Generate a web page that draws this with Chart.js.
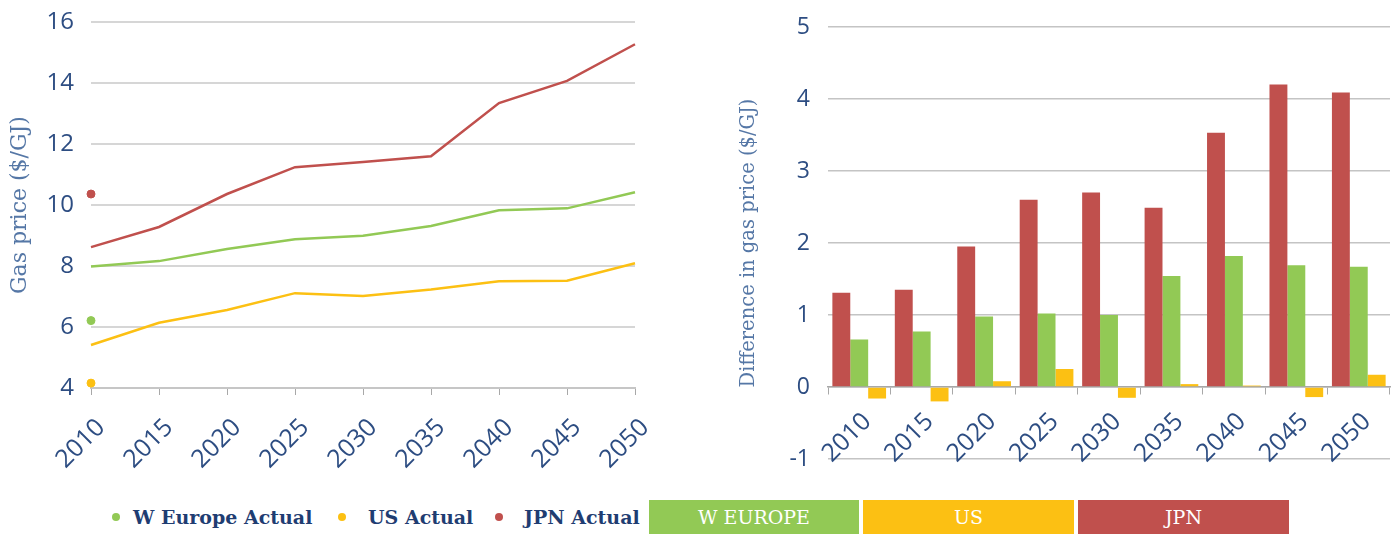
<!DOCTYPE html>
<html>
<head>
<meta charset="utf-8">
<script src="https://cdn.jsdelivr.net/npm/chart.js@4"></script>
<style>
  body { margin: 0; background: #fff; width: 1400px; height: 534px; overflow: hidden; position: relative; }
  #leftWrap { position: absolute; left: 0; top: 0; }
  #rightWrap { position: absolute; left: 700px; top: 0; }
  .dot { position: absolute; top: 513px; width: 8px; height: 8px; border-radius: 50%; }
  .label { position: absolute; top: 500px; height: 34px; line-height: 34px; font-family: "DejaVu Serif", serif; font-weight: bold; font-size: 19px; color: #1f3d72; white-space: nowrap; }
  .box { position: absolute; top: 500px; height: 34px; line-height: 34px; text-align: center; color: #fff; font-family: "DejaVu Serif", serif; font-size: 19px; }
</style>
</head>
<body>
<div id="leftWrap"><canvas id="lineChart" width="650" height="480"></canvas></div>
<div id="rightWrap"><canvas id="barChart" width="700" height="480"></canvas></div>

<span class="dot" style="left:112px;background:#92c955"></span>
<span class="label" style="left:133px">W Europe Actual</span>
<span class="dot" style="left:338px;background:#fcc013"></span>
<span class="label" style="left:368px">US Actual</span>
<span class="dot" style="left:495px;background:#c0504d"></span>
<span class="label" style="left:524px">JPN Actual</span>
<div class="box" style="left:649px;width:210px;background:#92c955">W EUROPE</div>
<div class="box" style="left:863px;width:211px;background:#fcc013">US</div>
<div class="box" style="left:1078px;width:211px;background:#c0504d">JPN</div>

<script>
const years = ["2010", "2015", "2020", "2025", "2030", "2035", "2040", "2045", "2050"];

// gas price ($/GJ)
const europePrice = [7.98, 8.16, 8.56, 8.88, 8.99, 9.31, 9.83, 9.89, 10.42];
const usPrice = [5.41, 6.14, 6.56, 7.11, 7.02, 7.23, 7.5, 7.52, 8.09];
const jpnPrice = [8.62, 9.28, 10.36, 11.24, 11.41, 11.6, 13.34, 14.07, 15.27];

// actual 2010 values
const europeActual = [6.21];
const usActual = [4.16];
const jpnActual = [10.36];

// difference in gas price ($/GJ)
const jpnDiff = [1.31, 1.35, 1.95, 2.6, 2.7, 2.49, 3.53, 4.2, 4.09];
const europeDiff = [0.66, 0.77, 0.98, 1.02, 1.0, 1.54, 1.82, 1.69, 1.67];
const usDiff = [-0.16, -0.2, 0.08, 0.25, -0.15, 0.04, 0.02, -0.14, 0.17];

const GREEN = "#92c955";
const YELLOW = "#fcc013";
const RED = "#c0504d";
const TICK_COLOR = "#2d4d82";
const TITLE_COLOR = "#5577a6";

function actualPoints(values) {
  return years.map((y, i) => (i < values.length ? values[i] : null));
}

function lineSet(label, data, color) {
  return {
    label: label,
    data: data,
    borderColor: color,
    backgroundColor: color,
    borderWidth: 2.5,
    pointRadius: 0,
    tension: 0,
  };
}

function dotSet(label, data, color) {
  return {
    label: label,
    data: actualPoints(data),
    borderColor: color,
    backgroundColor: color,
    showLine: false,
    pointRadius: 4,
    pointHoverRadius: 4,
  };
}

// keep the chart area exactly where the layout padding puts it
function noPadY(axis, width) {
  axis.width = width;
  axis.paddingTop = 0;
  axis.paddingBottom = 0;
}

function noPadX(axis, height) {
  axis.height = height;
  axis.paddingLeft = 0;
  axis.paddingRight = 0;
}

new Chart(document.getElementById("lineChart"), {
  type: "line",
  data: {
    labels: years,
    datasets: [
      lineSet("W Europe", europePrice, GREEN),
      lineSet("US", usPrice, YELLOW),
      lineSet("JPN", jpnPrice, RED),
      dotSet("W Europe Actual", europeActual, GREEN),
      dotSet("US Actual", usActual, YELLOW),
      dotSet("JPN Actual", jpnActual, RED),
    ],
  },
  options: {
    responsive: false,
    animation: false,
    layout: { padding: { left: 3, right: 15, top: 22, bottom: 0 } },
    plugins: { legend: { display: false }, tooltip: { enabled: false } },
    scales: {
      x: {
        grid: { drawOnChartArea: false, drawTicks: true, tickLength: 7, color: "#a8a8a8" },
        border: { display: true, color: "#c6c6c6", width: 2 },
        ticks: {
          maxRotation: 45,
          minRotation: 45,
          color: TICK_COLOR,
          font: { family: "Open Sans", size: 25 },
          padding: 18,
          labelOffset: 10,
        },
        afterFit: (axis) => noPadX(axis, 92),
      },
      y: {
        min: 4,
        max: 16,
        ticks: {
          stepSize: 2,
          color: TICK_COLOR,
          font: { family: "Open Sans", size: 24 },
          padding: 17,
        },
        grid: { color: "#d6d6d6", lineWidth: 2, drawTicks: false },
        border: { display: false },
        title: {
          display: true,
          text: "Gas price ($/GJ)",
          color: TITLE_COLOR,
          font: { family: "DejaVu Serif", size: 22 },
          padding: { top: 4, bottom: 4 },
        },
        afterFit: (axis) => noPadY(axis, 88),
      },
    },
  },
});

new Chart(document.getElementById("barChart"), {
  type: "bar",
  data: {
    labels: years,
    datasets: [
      { label: "JPN", data: jpnDiff, backgroundColor: RED },
      { label: "W EUROPE", data: europeDiff, backgroundColor: GREEN },
      { label: "US", data: usDiff, backgroundColor: YELLOW },
    ],
  },
  options: {
    responsive: false,
    animation: false,
    layout: { padding: { left: 33, right: 10, top: 27, bottom: 21 } },
    datasets: { bar: { categoryPercentage: 0.86, barPercentage: 1.0 } },
    plugins: { legend: { display: false }, tooltip: { enabled: false } },
    scales: {
      x: {
        position: { y: 0 },
        grid: { drawOnChartArea: false, drawTicks: true, tickLength: 7, color: "#a8a8a8", offset: true },
        border: { display: true, color: "#a8a8a8", width: 1.5 },
        ticks: {
          maxRotation: 45,
          minRotation: 45,
          color: TICK_COLOR,
          font: { family: "Open Sans", size: 25 },
          padding: 13,
          labelOffset: 8,
        },
        afterFit: (axis) => noPadX(axis, 0),
      },
      y: {
        min: -1,
        max: 5,
        ticks: {
          stepSize: 1,
          color: TICK_COLOR,
          font: { family: "Open Sans", size: 23 },
          padding: 18,
        },
        grid: { color: "#c4c4c4", lineWidth: 1.5, drawTicks: false },
        border: { display: false },
        title: {
          display: true,
          text: "Difference in gas price ($/GJ)",
          color: TITLE_COLOR,
          font: { family: "DejaVu Serif", size: 19.5 },
          padding: { top: 4, bottom: 4 },
        },
        afterFit: (axis) => noPadY(axis, 95),
      },
    },
  },
});
</script>
</body>
</html>
